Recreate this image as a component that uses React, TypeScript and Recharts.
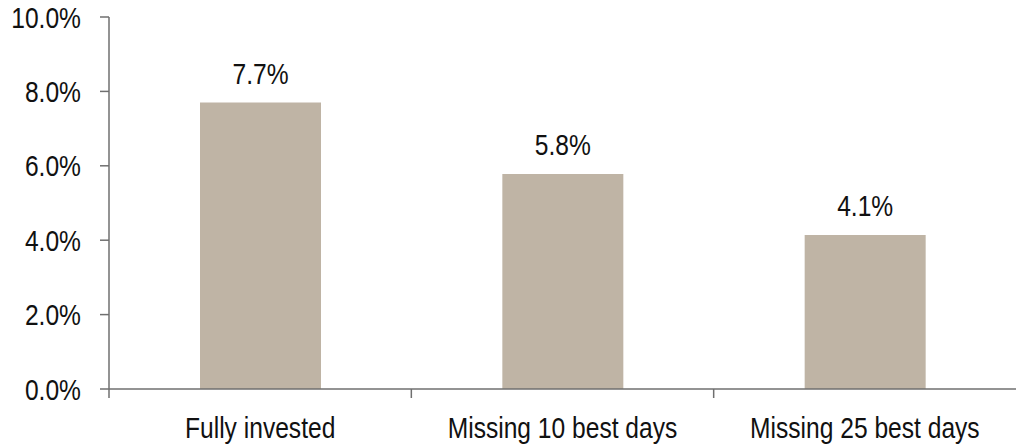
import React from 'react';
import { BarChart, Bar, XAxis, YAxis, LabelList } from 'recharts';

const categories = ['Fully invested', 'Missing 10 best days', 'Missing 25 best days'];
const returns = [7.7, 5.78, 4.14];
const yTicks = [0, 2, 4, 6, 8, 10];

const data = categories.map((name, i) => ({ name, value: returns[i] }));

const FONT = '"Liberation Sans", Arial, sans-serif';
const AXIS = '#6f6f6f';
const TEXT = '#111111';
const FS = 30;
const NARROW = 0.82;
const TICK = 9;
const Y_MARGIN = 19;
const X_MARGIN = 28;
const PLOT_W = 907;

const pct = (v: number) => `${Number(v).toFixed(1)}%`;

function NarrowText({ x, y, text, anchor, dy }: { x: number; y: number; text: string; anchor: string; dy: string }) {
  return (
    <text
      transform={`translate(${x},${y}) scale(${NARROW},1)`}
      textAnchor={anchor as any}
      dy={dy}
      fill={TEXT}
      fontSize={FS}
      fontFamily={FONT}
    >
      {text}
    </text>
  );
}

const YTick = (props: any) => {
  const ax = Number(props.x) + Y_MARGIN;
  const ty = Number(props.y);
  return (
    <g>
      <path d={`M${ax},${ty}H${ax + TICK}`} stroke={AXIS} strokeWidth={1.5} fill="none" />
      <NarrowText x={props.x} y={props.y} text={pct(props.payload.value)} anchor="end" dy="0.355em" />
    </g>
  );
};

const XTick = (props: any) => {
  const count = Number(props.visibleTicksCount) || categories.length;
  const w = Number(props.width) > 0 ? Number(props.width) : PLOT_W;
  const band = w / count;
  const lx = Number(props.x) - band / 2;
  const ay = Number(props.y) - X_MARGIN;
  return (
    <g>
      <line x1={lx} x2={lx} y1={ay} y2={ay + TICK} stroke={AXIS} strokeWidth={1.5} />
      <NarrowText x={props.x} y={props.y} text={String(props.payload.value)} anchor="middle" dy="0.71em" />
    </g>
  );
};

const BarLabel = (props: any) => {
  const { x, y, width, value } = props;
  return <NarrowText x={Number(x) + Number(width) / 2} y={Number(y) - 19} text={pct(value)} anchor="middle" dy="0" />;
};

export default function App() {
  return (
    <div style={{ position: 'absolute', left: 0, top: 0, width: 1016, height: 444, background: '#fff' }}>
      <BarChart
        width={1016}
        height={444}
        data={data}
        margin={{ top: 17, right: 0, bottom: 0, left: 0 }}
        barCategoryGap={0}
      >
        <XAxis
          dataKey="name"
          tickLine={false}
          axisLine={{ stroke: AXIS, strokeWidth: 1.5 }}
          tickSize={0}
          tickMargin={X_MARGIN}
          height={55}
          interval={0}
          tick={XTick}
        />
        <YAxis
          width={109}
          domain={[0, 10]}
          ticks={yTicks}
          interval={0}
          tickSize={TICK}
          tickMargin={Y_MARGIN}
          tickLine={false}
          axisLine={{ stroke: AXIS, strokeWidth: 1.5 }}
          tick={YTick}
        />
        <Bar dataKey="value" fill="#BFB4A5" barSize={121} isAnimationActive={false}>
          <LabelList dataKey="value" content={BarLabel} />
        </Bar>
      </BarChart>
    </div>
  );
}
